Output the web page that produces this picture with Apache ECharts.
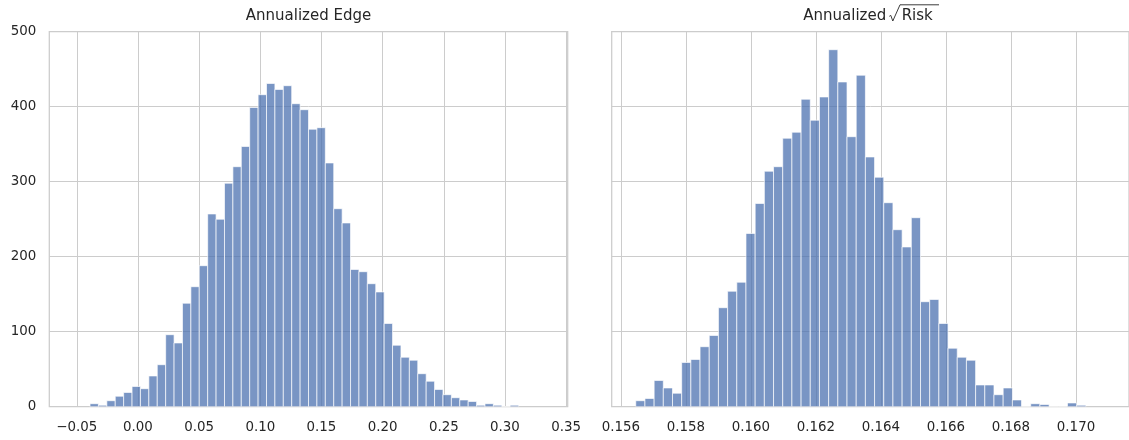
<!DOCTYPE html>
<html><head><meta charset="utf-8">
<script src="https://cdn.jsdelivr.net/npm/echarts@6/dist/echarts.min.js"></script>
<style>html,body{margin:0;padding:0;background:#fff}#c{width:1129px;height:440px}</style>
</head><body><div id="c"></div>
<script>
// ---- data ----
const edgeStart = -0.0392;
const edgeBinWidth = 0.00687;
const edgeCounts = [4, 2, 8, 14, 19, 27, 24, 41, 56, 96, 85, 138, 160, 188, 257, 250, 298, 320, 347, 399,
  416, 431, 423, 428, 404, 396, 370, 372, 325, 264, 245, 183, 180, 164, 153, 111, 82, 66, 62, 44,
  34, 23, 16, 12, 9, 7, 2, 4, 2, 0, 2];
const riskStart = 0.15646;
const riskBinWidth = 0.0002825;
const riskCounts = [8, 11, 35, 25, 18, 59, 63, 80, 95, 132, 154, 166, 231, 271, 314, 320, 358, 366, 410, 382,
  413, 476, 433, 360, 442, 333, 306, 272, 236, 213, 252, 140, 143, 111, 78, 66, 62, 29, 29, 16,
  25, 9, 0, 4, 3, 0, 0, 5, 2];
const edgeTicks = [-0.05, 0.00, 0.05, 0.10, 0.15, 0.20, 0.25, 0.30, 0.35];
const riskTicks = [0.156, 0.158, 0.160, 0.162, 0.164, 0.166, 0.168, 0.170];
const countTicks = [0, 100, 200, 300, 400, 500];

const TEXT = '#262626', GRIDC = '#cccccc', FONT = 'DejaVu Sans';

function bins(start, w, counts) {
  return counts.map((c, i) => [start + i * w, start + (i + 1) * w, c]);
}
function renderBar(params, api) {
  const p0 = api.coord([api.value(0), api.value(2)]);
  const p1 = api.coord([api.value(1), 0]);
  return {
    type: 'rect',
    shape: { x: p0[0], y: p0[1], width: p1[0] - p0[0], height: p1[1] - p0[1] },
    style: { fill: '#4c72b0', stroke: '#ffffff', lineWidth: 0.9, opacity: 0.75 }
  };
}
function fmt(d) {
  return v => (v < 0 ? '\u2212' : '') + Math.abs(v).toFixed(d);
}
function xAxis(grid, min, max, ticks, d) {
  return {
    type: 'value', gridIndex: grid, min: min, max: max,
    axisLine: { show: false },
    axisTick: { show: false, customValues: ticks },
    axisLabel: { customValues: ticks, formatter: fmt(d), color: TEXT, fontFamily: FONT, fontSize: 13.4, margin: 14.5 },
    splitLine: { show: true, lineStyle: { color: GRIDC, width: 1 } }
  };
}
function yAxis(grid, showLabel) {
  return {
    type: 'value', gridIndex: grid, min: countTicks[0], max: countTicks[countTicks.length - 1], interval: 100,
    axisLine: { show: false }, axisTick: { show: false },
    axisLabel: { show: showLabel, color: TEXT, fontFamily: FONT, fontSize: 13.4, margin: 13 },
    splitLine: { show: true, lineStyle: { color: GRIDC, width: 1 } }
  };
}

const chart = echarts.init(document.getElementById('c'), null, { renderer: 'canvas' });
chart.setOption({
  animation: false,
  backgroundColor: '#ffffff',
  grid: [
    { left: 49.3, top: 31.7, width: 518.4, height: 375, show: true, borderColor: GRIDC, borderWidth: 1.25, backgroundColor: 'transparent' },
    { left: 611.7, top: 31.7, width: 518.7, height: 375, show: true, borderColor: GRIDC, borderWidth: 1.25, backgroundColor: 'transparent' }
  ],
  xAxis: [
    xAxis(0, -0.0725, 0.3513, edgeTicks, 2),
    xAxis(1, 0.15572, 0.17163, riskTicks, 3)
  ],
  yAxis: [yAxis(0, true), yAxis(1, false)],
  series: [
    { type: 'custom', xAxisIndex: 0, yAxisIndex: 0, renderItem: renderBar, clip: true,
      encode: { x: [0, 1], y: 2 }, data: bins(edgeStart, edgeBinWidth, edgeCounts) },
    { type: 'custom', xAxisIndex: 1, yAxisIndex: 1, renderItem: renderBar, clip: true,
      encode: { x: [0, 1], y: 2 }, data: bins(riskStart, riskBinWidth, riskCounts) }
  ],
  graphic: [
    { type: 'text', x: 308.5, y: 16, style: { text: 'Annualized Edge', fill: TEXT, font: '15px "DejaVu Sans"', align: 'center', verticalAlign: 'middle' } },
    { type: 'text', x: 803.3, y: 16, style: { text: 'Annualized', fill: TEXT, font: '15px "DejaVu Sans"', align: 'left', verticalAlign: 'middle' } },
    { type: 'text', x: 901.7, y: 16, style: { text: 'Risk', fill: TEXT, font: '15px "DejaVu Sans"', align: 'left', verticalAlign: 'middle' } },
    { type: 'polyline', shape: { points: [[889.3, 16.3], [890.8, 15.4], [892.8, 21], [900, 4.8], [939, 4.8]] },
      style: { stroke: TEXT, lineWidth: 0.9, fill: null } }
  ]
});
</script></body></html>
